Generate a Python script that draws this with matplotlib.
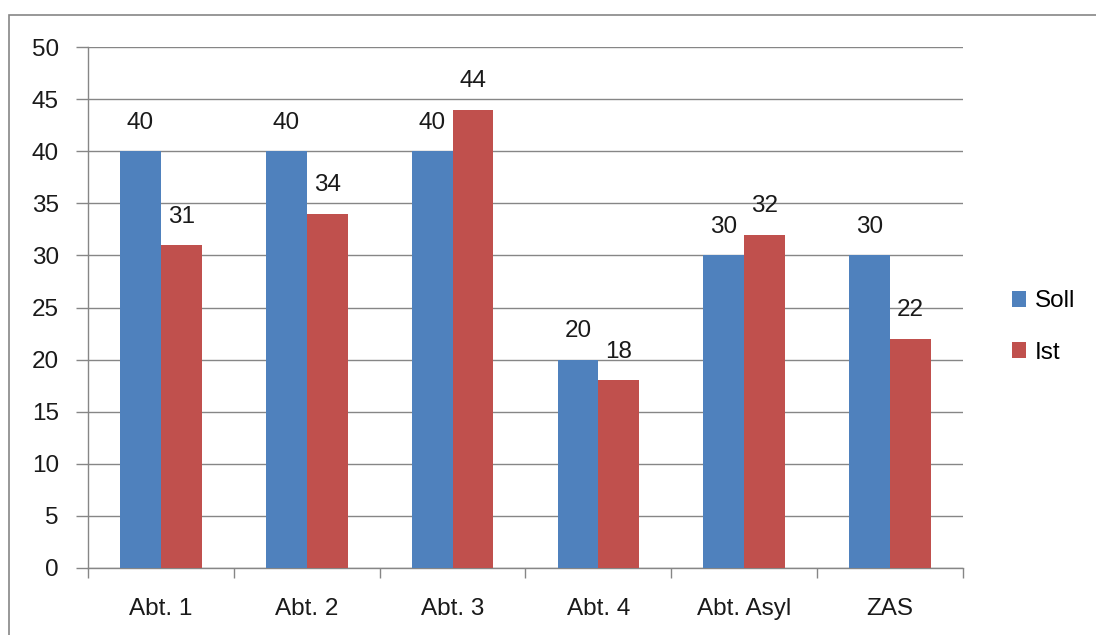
import numpy as np
import matplotlib
matplotlib.use("Agg")
import matplotlib.pyplot as plt
from matplotlib.patches import Rectangle

categories = ["Abt. 1", "Abt. 2", "Abt. 3", "Abt. 4", "Abt. Asyl", "ZAS"]
soll = [40, 40, 40, 20, 30, 30]
ist = [31, 34, 44, 18, 32, 22]
yticks = np.arange(0, 51, 5)

BLUE = "#4F81BD"
RED = "#C0504D"
GREY = "#868686"
FS = 17.5

plt.rcParams["font.family"] = ["Liberation Sans", "DejaVu Sans"]
plt.rcParams["font.size"] = FS

fig = plt.figure(figsize=(10.96, 6.35), dpi=100)
ax = fig.add_axes([88 / 1096, 1 - 568 / 635, 875 / 1096, 521 / 635])

# outer frame (only top and left visible in the reference)
fig.patches.append(Rectangle((9 / 1096, -0.1), 2, 0.1 + 1 - 15 / 635,
                             transform=fig.transFigure, fill=False,
                             edgecolor=GREY, linewidth=1.2))

x = np.arange(len(categories))
w = 0.28
b1 = ax.bar(x - w / 2, soll, w, color=BLUE, label="Soll", zorder=3)
b2 = ax.bar(x + w / 2, ist, w, color=RED, label="Ist", zorder=3)

for bars in (b1, b2):
    for rect in bars:
        ax.annotate("%d" % rect.get_height(),
                    (rect.get_x() + rect.get_width() / 2, rect.get_height()),
                    xytext=(0, 12.5), textcoords="offset points",
                    ha="center", va="bottom", fontsize=FS, color="#1a1a1a")

ax.set_xlim(-0.5, len(categories) - 0.5)
ax.set_ylim(0, 50)
ax.set_yticks(yticks)
ax.yaxis.grid(True, color=GREY, linewidth=1, zorder=0)
ax.set_axisbelow(True)

ax.set_xticks(x)
ax.set_xticklabels(categories)
ax.set_xticks(np.arange(-0.5, len(categories)), minor=True)
ax.tick_params(axis="x", which="major", length=0, pad=21.5)
ax.tick_params(axis="x", which="minor", length=7, color=GREY, width=1,
               direction="out")
ax.tick_params(axis="y", length=9, color=GREY, width=1, pad=12)
ax.tick_params(labelcolor="#1a1a1a")

for s in ("top", "right"):
    ax.spines[s].set_visible(False)
for s in ("left", "bottom"):
    ax.spines[s].set_color(GREY)
    ax.spines[s].set_linewidth(1)

ax.legend(loc="center left", bbox_to_anchor=(990 / 1096, 1 - 327 / 635),
          bbox_transform=fig.transFigure, frameon=False,
          handlelength=0.6, handleheight=0.6, handletextpad=0.35,
          labelspacing=1.2, fontsize=FS)

fig.savefig("out.png", dpi=100)
